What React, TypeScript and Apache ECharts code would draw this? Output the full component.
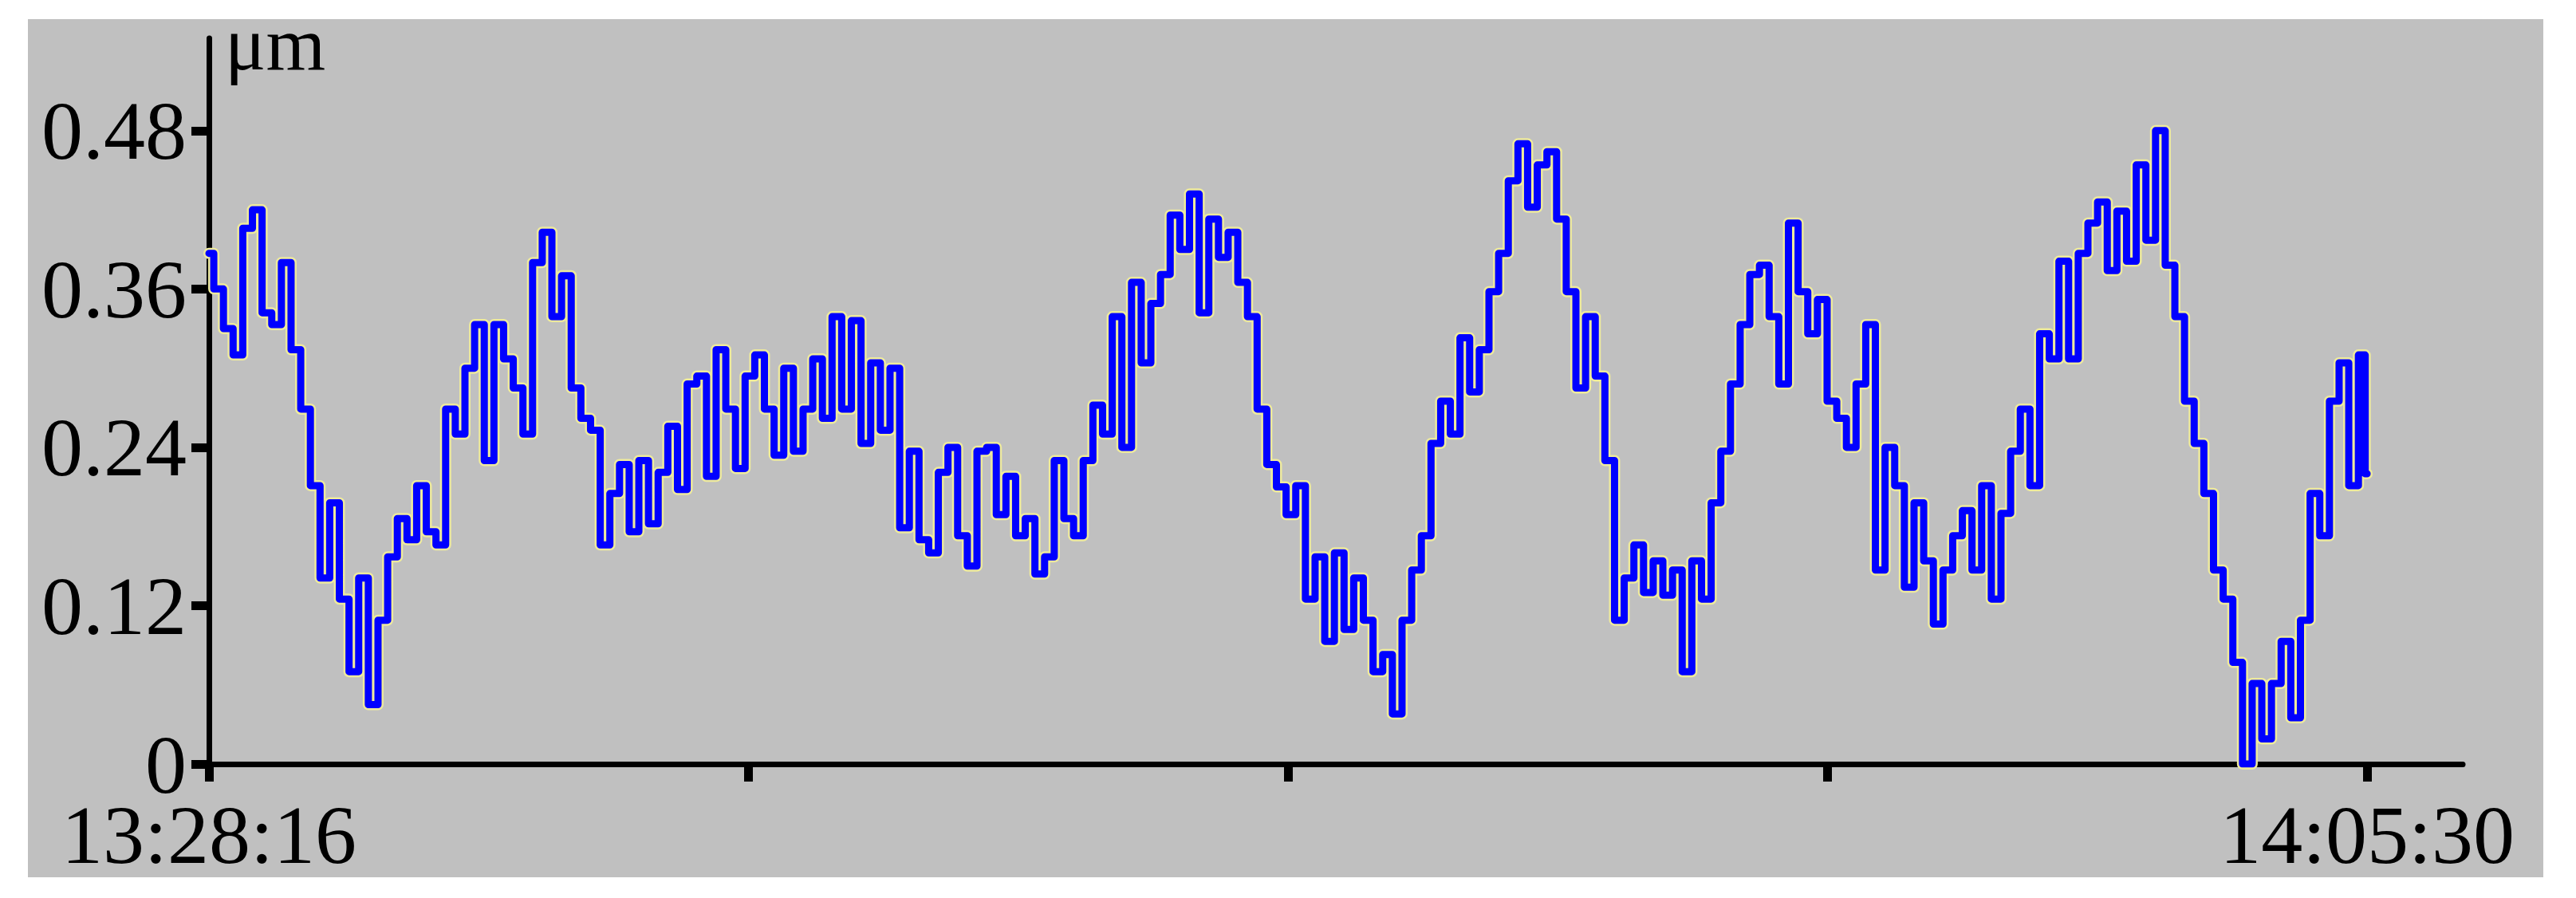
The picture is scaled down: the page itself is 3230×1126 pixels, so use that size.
import React, { useEffect, useRef } from "react";
import * as echarts from "echarts";

const START_TIME = "13:28:16";
const END_TIME = "14:05:30";
const SAMPLE_STEP_S = 10;
const AXIS_MAX_S = 2333;
const Y_TICKS = [0, 0.12, 0.24, 0.36, 0.48];
const Y_MAX = 0.55;
const UNIT = "μm";

const VALUES = [
  0.387, 0.36, 0.33, 0.31, 0.406, 0.42, 0.342, 0.333, 0.38, 0.314,
  0.269, 0.211, 0.141, 0.198, 0.125, 0.07, 0.141, 0.045, 0.109, 0.157,
  0.186, 0.17, 0.211, 0.176, 0.166, 0.269, 0.25, 0.3, 0.333, 0.23,
  0.333, 0.307, 0.285, 0.25, 0.38, 0.403, 0.339, 0.37, 0.285, 0.262,
  0.253, 0.166, 0.205, 0.227, 0.176, 0.23, 0.182, 0.221, 0.256, 0.208,
  0.288, 0.294, 0.218, 0.314, 0.269, 0.224, 0.294, 0.31, 0.269, 0.234,
  0.3, 0.237, 0.269, 0.307, 0.262, 0.339, 0.269, 0.336, 0.243, 0.304,
  0.253, 0.3, 0.179, 0.237, 0.17, 0.16, 0.221, 0.24, 0.173, 0.15,
  0.237, 0.24, 0.189, 0.218, 0.173, 0.186, 0.144, 0.157, 0.23, 0.186,
  0.173, 0.23, 0.272, 0.25, 0.339, 0.24, 0.365, 0.304, 0.349, 0.371,
  0.416, 0.39, 0.432, 0.342, 0.413, 0.384, 0.403, 0.365, 0.339, 0.269,
  0.227, 0.21, 0.189, 0.211, 0.125, 0.157, 0.093, 0.16, 0.102, 0.141,
  0.109, 0.07, 0.083, 0.038, 0.109, 0.147, 0.173, 0.243, 0.275, 0.25,
  0.323, 0.282, 0.314, 0.358, 0.387, 0.442, 0.47, 0.422, 0.454, 0.464,
  0.413, 0.358, 0.285, 0.339, 0.294, 0.23, 0.109, 0.141, 0.166, 0.13,
  0.154, 0.128, 0.147, 0.07, 0.154, 0.125, 0.198, 0.237, 0.288, 0.333,
  0.371, 0.378, 0.339, 0.288, 0.41, 0.358, 0.326, 0.352, 0.275, 0.262,
  0.24, 0.288, 0.333, 0.147, 0.24, 0.211, 0.134, 0.198, 0.154, 0.106,
  0.147, 0.173, 0.192, 0.147, 0.211, 0.125, 0.19, 0.237, 0.269, 0.211,
  0.326, 0.307, 0.381, 0.307, 0.387, 0.41, 0.426, 0.374, 0.419, 0.381,
  0.454, 0.397, 0.48, 0.378, 0.339, 0.275, 0.243, 0.205, 0.147, 0.125,
  0.077, 0.0, 0.061, 0.019, 0.061, 0.093, 0.035, 0.109, 0.205, 0.173,
  0.275, 0.304, 0.211, 0.31, 0.22,
];

const toSec = (s: string) => {
  const [h, m, x] = s.split(":").map(Number);
  return h * 3600 + m * 60 + x;
};
const pad = (n: number) => String(n).padStart(2, "0");
const fmt = (sec: number) => {
  const s = Math.round(sec);
  return `${pad(Math.floor(s / 3600))}:${pad(Math.floor((s % 3600) / 60))}:${pad(s % 60)}`;
};

export default function App() {
  const ref = useRef<HTMLDivElement>(null);
  useEffect(() => {
    if (!ref.current) return;
    const chart = echarts.init(ref.current, undefined, { renderer: "svg" });
    const t0 = toSec(START_TIME);
    const duration = toSec(END_TIME) - t0;
    const data = VALUES.map((v, i) => [Math.min(i * SAMPLE_STEP_S, duration), v]);
    const xTicks = [0, duration / 4, duration / 2, (3 * duration) / 4, duration];
    const font = "Liberation Serif";
    chart.setOption({
      animation: false,
      graphic: [
        {
          type: "rect",
          z: -10,
          silent: true,
          shape: { x: 35, y: 24, width: 3154, height: 1076 },
          style: { fill: "#C0C0C0" },
        },
      ],
      grid: { left: 262, right: 142, top: 48, bottom: 168, containLabel: false },
      xAxis: {
        type: "value",
        min: 0,
        max: AXIS_MAX_S,
        splitLine: { show: false },
        axisLine: { show: true, onZero: false, lineStyle: { color: "#000", width: 7 } },
        axisTick: {
          show: true,
          inside: false,
          length: 22,
          customValues: xTicks,
          lineStyle: { color: "#000", width: 11 },
        },
        axisLabel: {
          show: true,
          customValues: [0, duration],
          margin: 50,
          color: "#000",
          fontFamily: font,
          fontSize: 104,
          lineHeight: 76,
          formatter: (v: number) => fmt(t0 + v),
        },
      },
      yAxis: {
        type: "value",
        min: 0,
        max: Y_MAX,
        name: UNIT,
        nameLocation: "end",
        nameGap: -6,
        nameTextStyle: {
          color: "#000",
          fontFamily: font,
          fontSize: 96,
          lineHeight: 64,
          align: "left",
          verticalAlign: "middle",
          padding: [0, 0, 0, 20],
        },
        splitLine: { show: false },
        axisLine: { show: true, lineStyle: { color: "#000", width: 7 } },
        axisTick: {
          show: true,
          inside: false,
          length: 22,
          customValues: Y_TICKS,
          lineStyle: { color: "#000", width: 11 },
        },
        axisLabel: {
          show: true,
          customValues: Y_TICKS,
          margin: 28,
          color: "#000",
          fontFamily: font,
          fontSize: 104,
          lineHeight: 76,
          formatter: (v: number) => (v === 0 ? "0" : v.toFixed(2)),
        },
      },
      series: [
        {
          type: "line",
          data,
          step: "middle",
          showSymbol: false,
          silent: true,
          z: 1,
          lineStyle: { color: "#EEEA9C", width: 14, join: "round", cap: "round" },
        },
        {
          type: "line",
          data,
          step: "middle",
          showSymbol: false,
          silent: true,
          z: 2,
          lineStyle: { color: "#0000FF", width: 9, join: "round", cap: "round" },
        },
      ],
    });
    return () => chart.dispose();
  }, []);
  return (
    <div
      ref={ref}
      style={{ position: "absolute", left: 0, top: 0, width: 3230, height: 1126 }}
    />
  );
}
